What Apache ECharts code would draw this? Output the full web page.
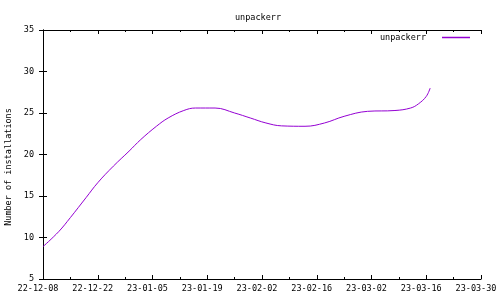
<!DOCTYPE html>
<html>
<head>
<meta charset="utf-8">
<script src="https://cdn.jsdelivr.net/npm/echarts@6/dist/echarts.min.js"></script>
<style>html,body{margin:0;padding:0;background:#fff}#c{width:500px;height:300px}</style>
</head>
<body>
<div id="c"></div>
<script>
var startDate = '2022-12-08';
var dates = ['2022-12-08','2022-12-12','2022-12-15','2022-12-19','2022-12-22','2022-12-26','2022-12-30','2023-01-02','2023-01-06','2023-01-09','2023-01-13','2023-01-16','2023-01-21','2023-01-26','2023-01-30','2023-02-03','2023-02-07','2023-02-13','2023-02-18','2023-02-23','2023-03-01','2023-03-08','2023-03-12','2023-03-14','2023-03-16','2023-03-17'];
var installs = [8.9,10.7,12.4,14.8,16.6,18.6,20.4,21.8,23.4,24.4,25.3,25.6,25.6,25.0,24.4,23.8,23.45,23.4,23.8,24.6,25.2,25.3,25.6,26.1,27.0,28.0];
var tickLabels = ['22-12-08','22-12-22','23-01-05','23-01-19','23-02-02','23-02-16','23-03-02','23-03-16','23-03-30'];
var seriesName = 'unpackerr';
var titleText = 'unpackerr';
var yName = 'Number of installations';

var DAY = 86400000;
var t0 = Date.parse(startDate + 'T00:00:00Z');
var points = dates.map(function (d, i) {
  return [(Date.parse(d + 'T00:00:00Z') - t0) / DAY, installs[i]];
});

var font = 'DejaVu Sans Mono';
var axisLine = {show: true, lineStyle: {color: '#000', width: 1}};
var chart = echarts.init(document.getElementById('c'), null, {renderer: 'canvas'});
chart.setOption({
  animation: false,
  backgroundColor: '#fff',
  title: {text: titleText, left: 230, top: 8, textStyle: {fontFamily: font, fontSize: 8.5, fontWeight: 'normal', color: '#000'}},
  legend: {
    data: [{name: seriesName, icon: 'path://M0,0L28,0L28,1.5L0,1.5Z'}],
    right: 30, top: 33, padding: 0, align: 'right', itemWidth: 28, itemHeight: 2, itemGap: 0,
    textStyle: {fontFamily: font, fontSize: 8.5, color: '#000', padding: [0, 11, 0, 0]}
  },
  graphic: [{
    type: 'text', x: 9, y: 167, rotation: Math.PI / 2,
    style: {text: yName, fontFamily: font, fontSize: 8.5, fill: '#000', align: 'center', verticalAlign: 'middle'}
  }],
  grid: {left: 43, right: 19, top: 30, bottom: 21},
  xAxis: [{
    type: 'value', min: 0, max: 112, interval: 14, position: 'bottom',
    axisLine: axisLine, splitLine: {show: false},
    axisTick: {show: true, inside: true, length: 4, lineStyle: {color: '#000'}},
    minorTick: {show: true, splitNumber: 2, length: 2, lineStyle: {color: '#000'}},
    axisLabel: {fontFamily: font, fontSize: 8.5, color: '#000', margin: 5, padding: [0, 10, 0, 0],
      formatter: function (v) { return tickLabels[Math.round(v / 14)] || ''; }}
  }, {
    type: 'value', min: 0, max: 112, interval: 14, position: 'top',
    axisLine: axisLine, splitLine: {show: false},
    axisTick: {show: true, inside: true, length: 4, lineStyle: {color: '#000'}},
    minorTick: {show: true, splitNumber: 2, length: 2, lineStyle: {color: '#000'}},
    axisLabel: {show: false}
  }],
  yAxis: [{
    type: 'value', min: 5, max: 35, interval: 5, position: 'left',
    axisLine: axisLine, splitLine: {show: false},
    axisTick: {show: true, inside: true, length: 4, lineStyle: {color: '#000'}},
    axisLabel: {fontFamily: font, fontSize: 8.5, color: '#000', margin: 9}
  }, {
    type: 'value', min: 5, max: 35, interval: 5, position: 'right',
    axisLine: axisLine, splitLine: {show: false},
    axisTick: {show: true, inside: true, length: 4, lineStyle: {color: '#000'}},
    axisLabel: {show: false}
  }],
  series: [{
    name: seriesName, type: 'line', data: points, smooth: 0.4, showSymbol: false,
    xAxisIndex: 0, yAxisIndex: 0,
    lineStyle: {color: '#9400d3', width: 1}, itemStyle: {color: '#9400d3'}
  }]
});
</script>
</body>
</html>
